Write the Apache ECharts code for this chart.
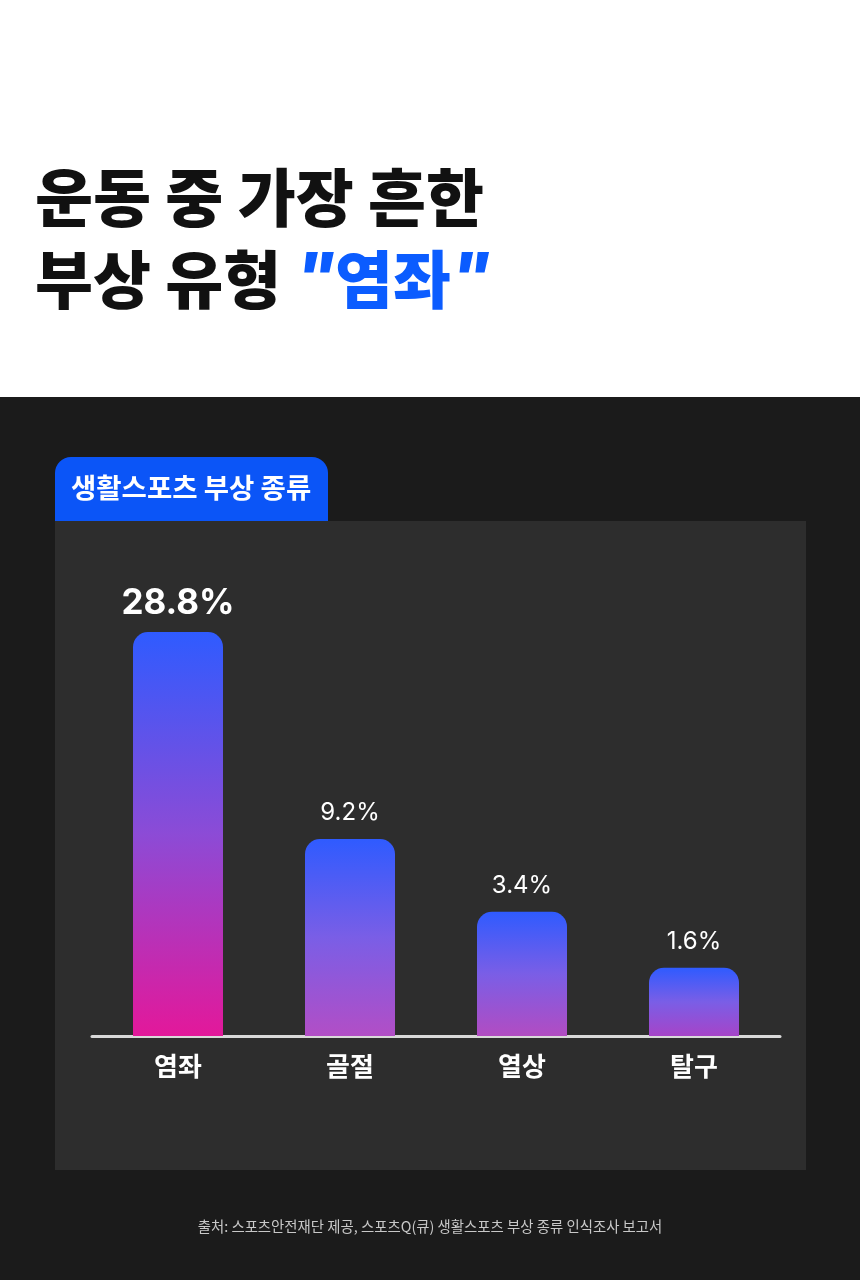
<!DOCTYPE html>
<html>
<head>
<meta charset="utf-8">
<script src="https://cdn.jsdelivr.net/npm/echarts@6/dist/echarts.min.js"></script>
<style>
  html, body { margin: 0; padding: 0; background: #1b1b1b; }
  #chart { width: 860px; height: 1280px; }
</style>
</head>
<body>
<div id="chart"></div>
<script>
// 생활스포츠 부상 종류 데이터
var categories = ['염좌', '골절', '열상', '탈구'];
var values = [28.8, 9.2, 3.4, 1.6];
// 원본 그림의 막대는 비율대로 그려지지 않음 -> 그림에서 읽은 막대 높이(축 단위)
var barHeights = [80, 39, 24.6, 13.5];

var KR = '"Noto Sans CJK KR", "Noto Sans", sans-serif';

var myChart = echarts.init(document.getElementById('chart'));

// 막대마다 위쪽 파랑 -> 아래쪽 분홍, 짧은 막대는 중간색에서 끝남
function barColor(h) {
	var t = h / barHeights[0];
	var end = t > 0.9 ? '#e3189a' : (t > 0.4 ? '#b24ec6' : (t > 0.25 ? '#b24cc2' : '#a644c8'));
	var mid = t > 0.9 ? '#8c4bd6' : '#7a5ee6';
	return new echarts.graphic.LinearGradient(0, 0, 0, 1, [
		{ offset: 0, color: '#2f5bff' },
		{ offset: 0.5, color: mid },
		{ offset: 1, color: end }
	]);
}

var seriesData = barHeights.map(function (h, i) {
	var big = i === 0;
	return {
		value: h,
		itemStyle: { color: barColor(h) },
		label: {
			fontSize: big ? 35 : 24,
			fontWeight: big ? 'bold' : 'normal',
			distance: big ? 11 : 14
		}
	};
});

myChart.setOption({
	backgroundColor: '#1b1b1b',
	animation: false,
	graphic: [
		// 흰색 제목 영역
		{ type: 'rect', shape: { x: 0, y: 0, width: 860, height: 397 }, style: { fill: '#ffffff' }, z: -10 },
		{
			type: 'text', left: 35, top: 166,
			style: { text: '운동 중 가장 흔한', fill: '#111111', font: '900 63px ' + KR }
		},
		{
			type: 'text', left: 35, top: 248,
			style: {
				text: '{a|부상 유형 }{q|"}{b|염좌}{q|"}',
				rich: {
					a: { fill: '#111111', font: '900 63px ' + KR },
					b: { fill: '#0b5cff', font: '900 63px ' + KR },
					q: { fill: '#0b5cff', font: 'italic 900 63px Inter, sans-serif' }
				}
			}
		},
		// 패널
		{ type: 'rect', shape: { x: 55, y: 521, width: 751, height: 649 }, style: { fill: '#2d2d2d' }, z: -10 },
		// 파란 탭
		{ type: 'rect', shape: { x: 55, y: 457, width: 273, height: 64, r: [16, 16, 0, 0] }, style: { fill: '#0b55f7' }, z: -9 },
		{
			type: 'text', left: 71, top: 474,
			style: { text: '생활스포츠 부상 종류', fill: '#ffffff', font: 'bold 27.5px ' + KR }
		},
		// 출처
		{
			type: 'text', left: 'center', top: 1219,
			style: { text: '출처: 스포츠안전재단 제공, 스포츠Q(큐) 생활스포츠 부상 종류 인식조사 보고서', fill: '#c8c8c8', font: '14.4px ' + KR }
		}
	],
	grid: { left: 92, right: 80, top: 531, bottom: 244 },
	xAxis: {
		type: 'category',
		data: categories,
		axisLine: { lineStyle: { color: '#d9d9d9', width: 3 } },
		axisTick: { show: false },
		axisLabel: { color: '#ffffff', fontSize: 26, fontWeight: 'bold', fontFamily: KR, margin: 17 }
	},
	yAxis: {
		type: 'value',
		min: 0,
		max: 100,
		show: false,
		splitLine: { show: false }
	},
	series: [{
		type: 'bar',
		data: seriesData,
		barWidth: 90,
		itemStyle: { borderRadius: [15, 15, 0, 0] },
		label: {
			show: true,
			position: 'top',
			color: '#ffffff',
			fontFamily: 'Inter, "Noto Sans", sans-serif',
			formatter: function (p) { return values[p.dataIndex] + '%'; }
		}
	}]
});
</script>
</body>
</html>
